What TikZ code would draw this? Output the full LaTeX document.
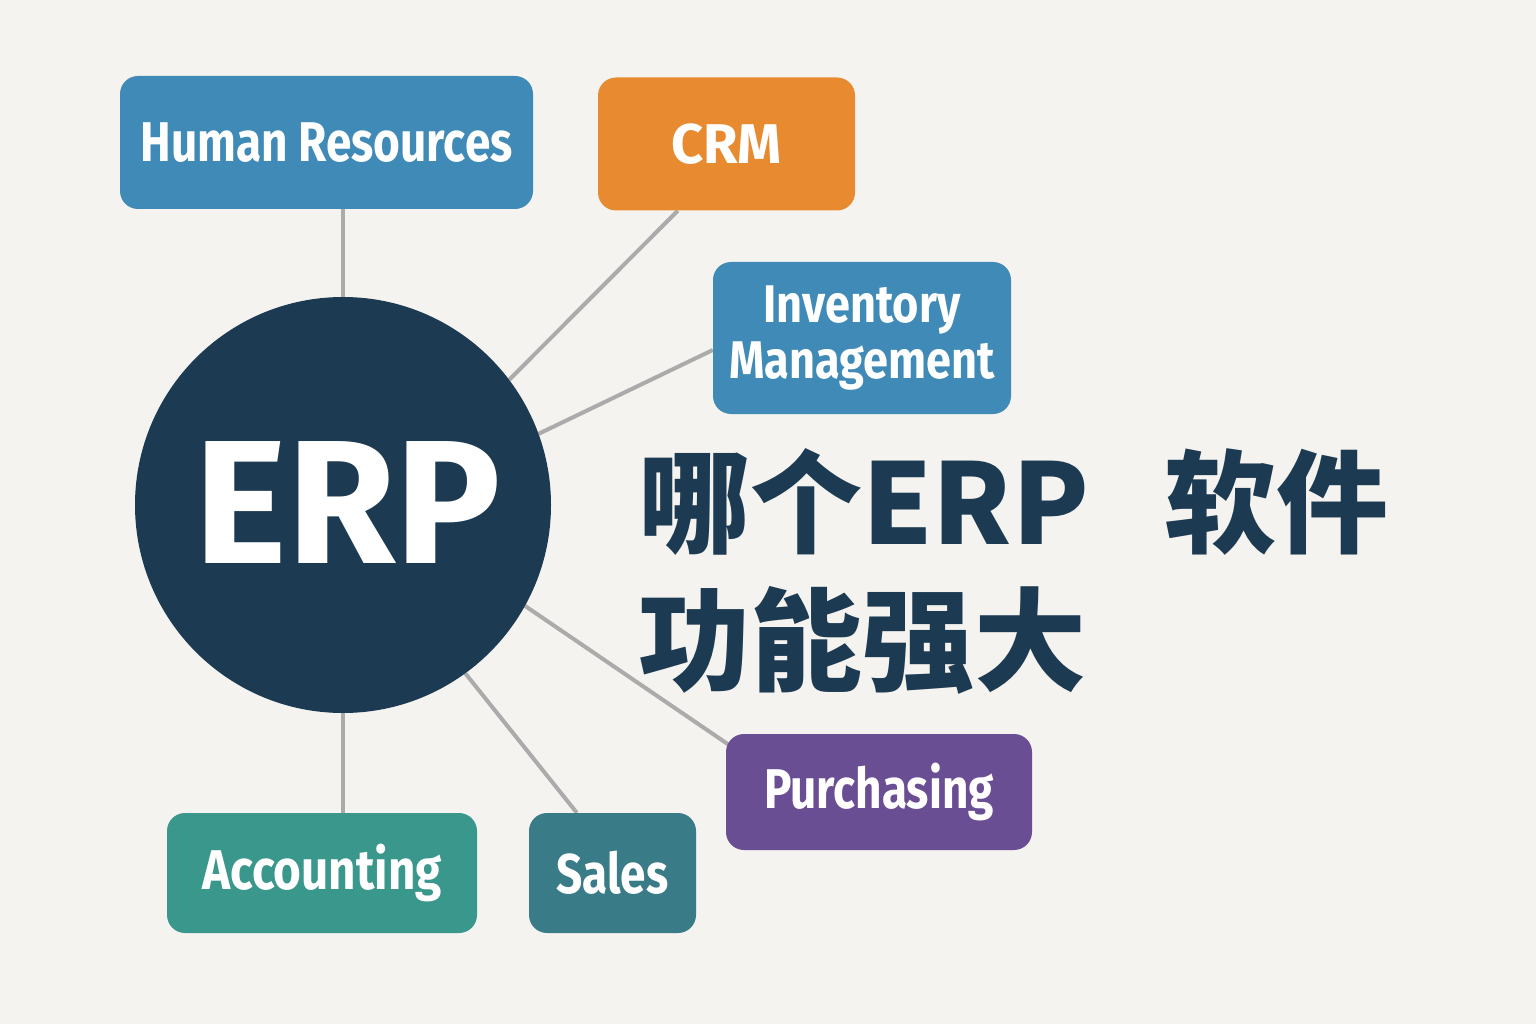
\documentclass[tikz,border=0pt]{standalone}
\usepackage{fontspec}
\setmainfont{Fira Sans}
\newfontfamily\lblfont[FakeStretch=0.82]{Fira Sans}
\newfontfamily\invfont[FakeStretch=0.85]{Fira Sans}
\newfontfamily\cjk{Noto Sans CJK SC}
\usetikzlibrary{backgrounds}
\definecolor{bgc}{HTML}{F5F3EF}
\definecolor{navy}{HTML}{1C3A52}
\definecolor{hrblue}{HTML}{3F8AB6}
\definecolor{crmorange}{HTML}{E88B30}
\definecolor{purp}{HTML}{6A4E94}
\definecolor{tealA}{HTML}{3A978C}
\definecolor{tealS}{HTML}{3A7B88}
\definecolor{linegray}{HTML}{ABABAB}
\begin{document}
\begin{tikzpicture}[x=1pt,y=-1pt,
  box/.style={rounded corners=18pt, text=white, align=center, inner sep=0pt,
    font=\lblfont\bfseries\fontsize{56}{60}\selectfont},
  link/.style={draw=linegray, line width=4pt},
  headline/.style={anchor=base west, inner sep=0pt, text=navy,
    font=\cjk\bfseries\fontsize{112}{112}\selectfont}]
\useasboundingbox (0,0) rectangle (1536,1024);

\node[circle, fill=navy, minimum size=416pt, inner sep=0pt] (erp) at (343,505) {};
\node[inner sep=0pt, text=white, font=\bfseries\fontsize{176}{176}\selectfont] (erptext) at (348,503) {ERP};

\node[box, fill=hrblue, minimum width=413pt, minimum height=133pt] (hr) at (326.5,142.5) {Human Resources};
\node[box, fill=crmorange, minimum width=257pt, minimum height=133pt,
  font=\bfseries\fontsize{56}{60}\selectfont] (crm) at (726.5,144) {CRM};
\node[box, fill=hrblue, minimum width=298pt, minimum height=152pt,
  font=\invfont\bfseries\fontsize{53}{56}\selectfont] (inv) at (862,338) {Inventory\\Management};
\node[box, fill=purp, minimum width=306pt, minimum height=116pt] (pur) at (879,792) {Purchasing};
\node[box, fill=tealS, minimum width=167pt, minimum height=120pt] (sal) at (612.5,873) {Sales};
\node[box, fill=tealA, minimum width=310pt, minimum height=120pt,
  font=\invfont\bfseries\fontsize{56}{60}\selectfont] (acc) at (322,873) {Accounting};

\node[headline] (t1) at (638,544) {哪个ERP\hspace{76pt}软件};
\node[headline] (t2) at (638,682) {功能强大};

\begin{pgfonlayer}{background}
  \fill[bgc] (0,0) rectangle (1536,1024);
  \draw[link] (erp.north) -- (erp.north |- hr.south);
  \draw[link] (erp.37) -- ([xshift=80pt]crm.south west);
  \draw[link] (erp.20) -- ([yshift=-12pt]inv.west);
  \draw[link] (erp.-29) -- ([xshift=3pt,yshift=-11pt]pur.north west);
  \draw[link] (erp.-54) -- ([xshift=48pt]sal.north west);
  \draw[link] (erp.south) -- (erp.south |- acc.north);
\end{pgfonlayer}
\end{tikzpicture}
\end{document}
